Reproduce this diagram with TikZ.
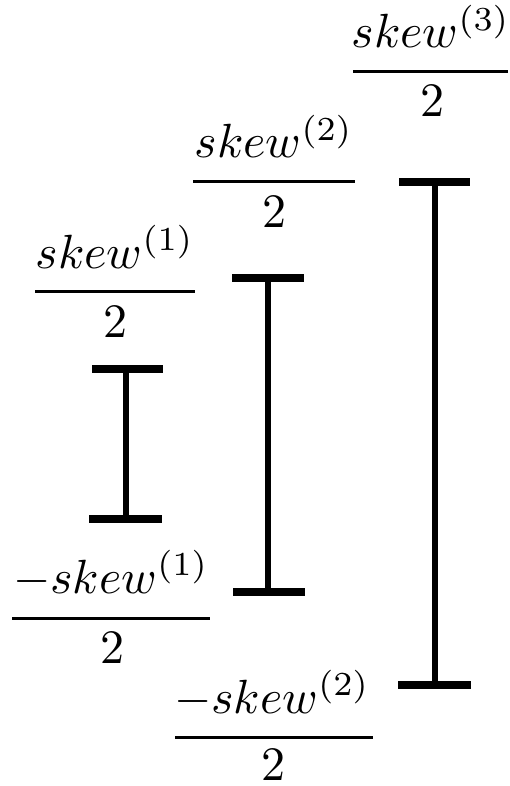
\documentclass[tikz,border=0pt]{standalone}
\usepackage{graphicx}
\newcommand{\bigmath}[1]{\scalebox{4.8}{$#1$}}
\begin{document}
\begin{tikzpicture}[x=1pt,y=-1pt,
  lab/.style={inner sep=0pt, anchor=base},
  fracline/.style={line width=3pt},
  crossbar/.style={line width=8pt},
  stem/.style={line width=6pt}]
\useasboundingbox (0,0) rectangle (510,786);
% ---------- I-bars ----------
% bar 1
\coordinate (b1t) at (126,368.5);
\coordinate (b1b) at (126,519);
\coordinate (b1tl) at (92,368.5);  \coordinate (b1tr) at (163,368.5);
\coordinate (b1bl) at (89,519);    \coordinate (b1br) at (162,519);
\draw[stem] (b1t) -- (b1b);
\draw[crossbar] (b1tl) -- (b1tr);
\draw[crossbar] (b1bl) -- (b1br);
% bar 2
\coordinate (b2t) at (268,278);
\coordinate (b2b) at (268,592);
\coordinate (b2tl) at (232,278);  \coordinate (b2tr) at (304,278);
\coordinate (b2bl) at (233,592);  \coordinate (b2br) at (305,592);
\draw[stem] (b2t) -- (b2b);
\draw[crossbar] (b2tl) -- (b2tr);
\draw[crossbar] (b2bl) -- (b2br);
% bar 3
\coordinate (b3t) at (435,182);
\coordinate (b3b) at (435,684.5);
\coordinate (b3tl) at (399,182);  \coordinate (b3tr) at (470,182);
\coordinate (b3bl) at (398,684.5);  \coordinate (b3br) at (471,684.5);
\draw[stem] (b3t) -- (b3b);
\draw[crossbar] (b3tl) -- (b3tr);
\draw[crossbar] (b3bl) -- (b3br);
% ---------- fraction labels ----------
% skew(1)/2
\node[lab] (n1) at (115,268) {\bigmath{skew^{(1)}}};
\coordinate (f1l) at (35,291); \coordinate (f1r) at (195,291);
\draw[fracline] (f1l) -- (f1r);
\node[lab] (d1) at (115,337) {\bigmath{2}};
% -skew(1)/2
\node[lab] (m1) at (111,593) {\bigmath{-skew^{(1)}}};
\coordinate (g1l) at (12,618); \coordinate (g1r) at (210,618);
\draw[fracline] (g1l) -- (g1r);
\node[lab] (e1) at (112,663) {\bigmath{2}};
% skew(2)/2
\node[lab] (n2) at (274,158) {\bigmath{skew^{(2)}}};
\coordinate (f2l) at (193,182); \coordinate (f2r) at (355,182);
\draw[fracline] (f2l) -- (f2r);
\node[lab] (d2) at (274,228) {\bigmath{2}};
% -skew(2)/2
\node[lab] (m2) at (272,713) {\bigmath{-skew^{(2)}}};
\coordinate (g2l) at (175,737); \coordinate (g2r) at (373,737);
\draw[fracline] (g2l) -- (g2r);
\node[lab] (e2) at (273,780) {\bigmath{2}};
% skew(3)/2
\node[lab] (n3) at (431,48) {\bigmath{skew^{(3)}}};
\coordinate (f3l) at (353,72); \coordinate (f3r) at (508,72);
\draw[fracline] (f3l) -- (f3r);
\node[lab] (d3) at (432,117) {\bigmath{2}};
\end{tikzpicture}
\end{document}
